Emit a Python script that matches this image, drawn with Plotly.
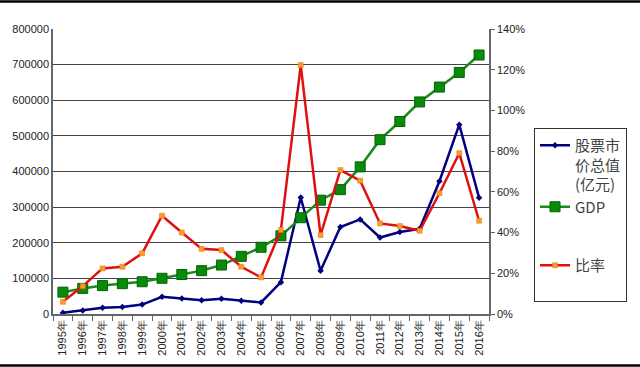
import plotly.graph_objects as go

years = [f"{y}年" for y in range(1995, 2017)]
market_cap = [3474, 9842, 17529, 19506, 26471, 48091, 43522, 38329, 42458, 37056, 32430,
              89404, 327141, 121366, 243939, 265423, 214758, 230358, 239077, 372547, 531463, 326000]
gdp = [61340, 71814, 79715, 85196, 90564, 100280, 110863, 121717, 137422, 161840, 187319,
       219439, 270232, 319516, 349081, 413030, 489301, 540367, 595244, 637000, 678000, 727000]
ratio = [6.0, 13.7, 22.4, 23.2, 29.8, 48.3, 40.0, 32.0, 31.4, 23.2, 18.0,
         41.3, 122.3, 38.8, 70.7, 65.5, 44.5, 43.2, 40.9, 59.3, 79.0, 45.8]
left_ticks = [0, 100000, 200000, 300000, 400000, 500000, 600000, 700000, 800000]
right_ticks = [0, 20, 40, 60, 80, 100, 120, 140]

W, H = 640, 367
L, R, T, B = 53, 151, 29, 53
PW, PH = W - L - R, H - T - B

fig = go.Figure()
fig.add_trace(go.Scatter(
    x=years, y=market_cap, name="股票市<br>价总值<br>(亿元)", mode="lines+markers",
    line=dict(color="#000080", width=2.5),
    marker=dict(symbol="diamond", size=5, color="#000080"),
    legendgroup="ab"))
fig.add_trace(go.Scatter(
    x=years, y=gdp, name="GDP", mode="lines+markers",
    line=dict(color="#1a8a1a", width=2.5),
    marker=dict(symbol="square", size=10, color="#0a8a0a", line=dict(color="#006400", width=1)),
    legendgroup="ab"))
fig.add_trace(go.Scatter(
    x=years, y=ratio, name="比率<br> ", mode="lines+markers", yaxis="y2",
    line=dict(color="#e01010", width=2.5),
    marker=dict(symbol="square", size=5, color="#f0a030", line=dict(color="#ff6a00", width=0.5)),
    legendgroup="c"))

grid = "#444444"
fig.update_layout(
    width=W, height=H,
    margin=dict(l=L, r=R, t=T, b=B, autoexpand=False),
    paper_bgcolor="white", plot_bgcolor="white",
    font=dict(family="Liberation Sans, Arial, sans-serif", size=11, color="#222"),
    xaxis=dict(type="category", range=[-0.5, 21.5], tickangle=-90,
               showline=True, linecolor="#666", linewidth=1.5, mirror=False,
               ticks="outside", tickson="boundaries", ticklen=5, tickcolor="#666",
               showgrid=False, tickfont=dict(size=11, family="Liberation Sans, Arial, sans-serif")),
    yaxis=dict(range=[0, 800000], tickvals=left_ticks, ticktext=[str(v) for v in left_ticks],
               showline=True, linecolor="#666", linewidth=1.5,
               showgrid=True, gridcolor=grid, gridwidth=1.2, zeroline=False,
               ticks="", tickfont=dict(size=11)),
    yaxis2=dict(range=[0, 140], tickvals=right_ticks, ticktext=[f"{v}%" for v in right_ticks],
                overlaying="y", side="right", showline=True, linecolor="#666", linewidth=1.5,
                showgrid=False, zeroline=False, ticks="outside", ticklen=4, tickcolor="#666",
                tickfont=dict(size=11)),
    legend=dict(x=(534 - L) / PW, y=(H - B - 128) / PH, xanchor="left", yanchor="top",
                bordercolor="#333", borderwidth=1, bgcolor="white",
                font=dict(family="Noto Sans CJK SC", size=15, color="#444"),
                tracegroupgap=36, valign="top", itemwidth=30, traceorder="grouped"),
    showlegend=True,
)
# top and bottom frame lines of the original chart object
for py in (1.5, 365.5):
    yp = (H - B - py) / PH
    fig.add_shape(type="line", xref="paper", yref="paper",
                  x0=-L / PW, x1=(W - L) / PW, y0=yp, y1=yp,
                  line=dict(color="black", width=2.5))

fig.write_html("out.html", config={"displayModeBar": False},
               post_script="document.body.style.margin='0';")
